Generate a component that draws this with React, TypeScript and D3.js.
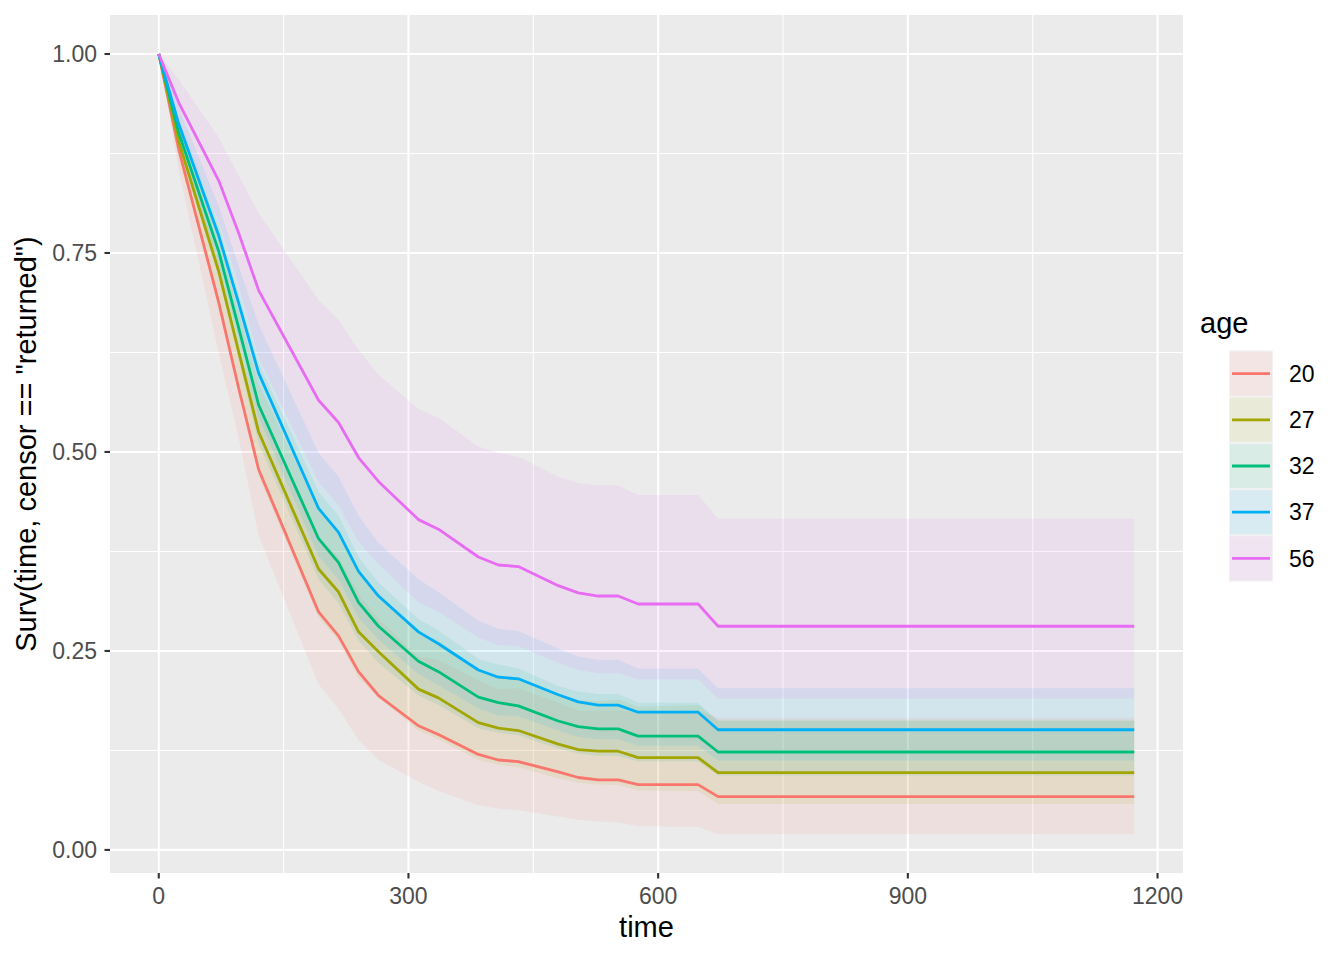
import React from "react";
import * as d3 from "d3";

const times = [0, 24, 72, 96, 120, 192, 216, 240, 264, 312, 336, 384, 408, 432, 480, 504, 528, 552, 576, 648, 672, 1172];
const ageLevels = ["20", "27", "32", "37", "56"];
const ageColors = ["#F8766D", "#A3A500", "#00BF7D", "#00B0F6", "#E76BF3"];

const surv20 = [1, 0.880, 0.688, 0.580, 0.478, 0.299, 0.269, 0.224, 0.194, 0.156, 0.145, 0.120, 0.113, 0.111, 0.098, 0.091, 0.088, 0.088, 0.082, 0.082, 0.067, 0.067];
const lower20 = [1, 0.854, 0.625, 0.518, 0.395, 0.208, 0.177, 0.138, 0.113, 0.086, 0.074, 0.056, 0.052, 0.050, 0.042, 0.038, 0.036, 0.0345, 0.030, 0.029, 0.020, 0.020];
const upper20 = [1, 0.900, 0.739, 0.632, 0.552, 0.393, 0.368, 0.322, 0.290, 0.243, 0.239, 0.213, 0.202, 0.203, 0.185, 0.175, 0.175, 0.175, 0.173, 0.175, 0.166, 0.166];

const surv27 = [1, 0.890, 0.727, 0.626, 0.525, 0.353, 0.324, 0.274, 0.249, 0.202, 0.191, 0.160, 0.153, 0.150, 0.133, 0.126, 0.124, 0.124, 0.116, 0.116, 0.097, 0.097];
const lower27 = [1, 0.869, 0.688, 0.581, 0.470, 0.292, 0.263, 0.216, 0.192, 0.150, 0.139, 0.113, 0.107, 0.104, 0.090, 0.0845, 0.0823, 0.0815, 0.0747, 0.074, 0.0577, 0.0577];
const upper27 = [1, 0.911, 0.768, 0.675, 0.586, 0.427, 0.400, 0.348, 0.323, 0.273, 0.263, 0.227, 0.219, 0.217, 0.196, 0.188, 0.187, 0.189, 0.180, 0.182, 0.163, 0.163];

const surv32 = [1, 0.901, 0.752, 0.656, 0.559, 0.391, 0.361, 0.311, 0.281, 0.237, 0.224, 0.192, 0.185, 0.181, 0.162, 0.155, 0.152, 0.152, 0.143, 0.143, 0.123, 0.123];
const lower32 = [1, 0.882, 0.720, 0.617, 0.511, 0.340, 0.310, 0.263, 0.235, 0.194, 0.182, 0.153, 0.147, 0.144, 0.127, 0.121, 0.118, 0.118, 0.111, 0.111, 0.0935, 0.0935];
const upper32 = [1, 0.920, 0.785, 0.698, 0.612, 0.450, 0.420, 0.368, 0.336, 0.290, 0.276, 0.240, 0.233, 0.228, 0.206, 0.199, 0.196, 0.196, 0.185, 0.185, 0.162, 0.162];

const surv37 = [1, 0.912, 0.772, 0.687, 0.599, 0.429, 0.399, 0.350, 0.319, 0.274, 0.259, 0.226, 0.217, 0.215, 0.195, 0.186, 0.182, 0.182, 0.173, 0.173, 0.151, 0.151];
const lower37 = [1, 0.891, 0.737, 0.643, 0.544, 0.369, 0.340, 0.292, 0.264, 0.221, 0.207, 0.178, 0.169, 0.168, 0.150, 0.142, 0.139, 0.139, 0.131, 0.131, 0.1125, 0.1125];
const upper37 = [1, 0.933, 0.809, 0.734, 0.660, 0.499, 0.469, 0.420, 0.386, 0.340, 0.324, 0.288, 0.278, 0.275, 0.253, 0.243, 0.239, 0.239, 0.228, 0.228, 0.203, 0.203];

const surv56 = [1, 0.939, 0.841, 0.775, 0.703, 0.565, 0.537, 0.493, 0.463, 0.415, 0.403, 0.368, 0.358, 0.356, 0.332, 0.323, 0.319, 0.319, 0.309, 0.309, 0.281, 0.281];
const lower56 = [1, 0.911, 0.790, 0.709, 0.618, 0.462, 0.433, 0.387, 0.359, 0.311, 0.299, 0.267, 0.257, 0.256, 0.235, 0.226, 0.222, 0.222, 0.214, 0.214, 0.190, 0.190];
const upper56 = [1, 0.968, 0.895, 0.847, 0.800, 0.691, 0.666, 0.628, 0.597, 0.554, 0.543, 0.507, 0.499, 0.494, 0.469, 0.461, 0.458, 0.458, 0.446, 0.446, 0.416, 0.416];

const xTicks = [0, 300, 600, 900, 1200];
const xMinor = [150, 450, 750, 1050];
const yTicks = [0, 0.25, 0.5, 0.75, 1.0];
const yTickLabels = ["0.00", "0.25", "0.50", "0.75", "1.00"];
const yMinor = [0.125, 0.375, 0.625, 0.875];

const survs = [surv20, surv27, surv32, surv37, surv56];
const lowers = [lower20, lower27, lower32, lower37, lower56];
const uppers = [upper20, upper27, upper32, upper37, upper56];

type Pt = { t: number; s: number; lo: number; hi: number };

export default function App() {
  const W = 1344, H = 960;
  const panel = { left: 110, right: 1183, top: 15, bottom: 873 };
  const font = "'Liberation Sans', Arial, Helvetica, sans-serif";

  const tMax = d3.max(times) as number;
  const tPad = tMax * 0.05;
  const yMin = d3.min(lowers.flat()) as number;
  const yMax = d3.max(uppers.flat()) as number;
  const yPad = (yMax - yMin) * 0.05;

  const x = d3.scaleLinear().domain([-tPad, tMax + tPad]).range([panel.left, panel.right]);
  const y = d3.scaleLinear().domain([yMin - yPad, yMax + yPad]).range([panel.bottom, panel.top]);

  const series = ageLevels.map((age, gi) => ({
    age,
    color: ageColors[gi],
    pts: times.map((t, i) => ({ t, s: survs[gi][i], lo: lowers[gi][i], hi: uppers[gi][i] })) as Pt[],
  }));

  const area = d3.area<Pt>().x((d) => x(d.t)).y0((d) => y(d.lo)).y1((d) => y(d.hi));
  const line = d3.line<Pt>().x((d) => x(d.t)).y((d) => y(d.s));

  const majorW = 2.1, minorW = 1.05, dataW = 2.8;
  const tickFs = 23, titleFs = 29, legFs = 23;
  const legendX = 1229, legendKeyW = 44, legendTop = 350.5, keyH = 46.2;

  return (
    <svg width={W} height={H} style={{ position: "absolute", left: 0, top: 0, background: "#fff" }} fontFamily={font}>
      <rect x={0} y={0} width={W} height={H} fill="#ffffff" />
      <rect x={panel.left} y={panel.top} width={panel.right - panel.left} height={panel.bottom - panel.top} fill="#EBEBEB" />
      {xMinor.map((v) => (
        <line key={"xm" + v} x1={x(v)} x2={x(v)} y1={panel.top} y2={panel.bottom} stroke="#fff" strokeWidth={minorW} />
      ))}
      {yMinor.map((v) => (
        <line key={"ym" + v} x1={panel.left} x2={panel.right} y1={y(v)} y2={y(v)} stroke="#fff" strokeWidth={minorW} />
      ))}
      {xTicks.map((v) => (
        <line key={"xM" + v} x1={x(v)} x2={x(v)} y1={panel.top} y2={panel.bottom} stroke="#fff" strokeWidth={majorW} />
      ))}
      {yTicks.map((v) => (
        <line key={"yM" + v} x1={panel.left} x2={panel.right} y1={y(v)} y2={y(v)} stroke="#fff" strokeWidth={majorW} />
      ))}
      <g>
        {series.map((s) => (
          <path key={"r" + s.age} d={area(s.pts) || ""} fill={s.color} fillOpacity={0.1} stroke="none" />
        ))}
      </g>
      <g>
        {series.map((s) => (
          <path key={"l" + s.age} d={line(s.pts) || ""} fill="none" stroke={s.color} strokeWidth={dataW} strokeLinejoin="round" />
        ))}
      </g>
      {xTicks.map((v) => (
        <g key={"xt" + v}>
          <line x1={x(v)} x2={x(v)} y1={panel.bottom} y2={panel.bottom + 5.5} stroke="#333333" strokeWidth={majorW} />
          <text x={x(v)} y={panel.bottom + 31} textAnchor="middle" fontSize={tickFs} fill="#4D4D4D">{v}</text>
        </g>
      ))}
      {yTicks.map((v, i) => (
        <g key={"yt" + v}>
          <line x1={panel.left - 5.5} x2={panel.left} y1={y(v)} y2={y(v)} stroke="#333333" strokeWidth={majorW} />
          <text x={97} y={y(v)} dy="0.36em" textAnchor="end" fontSize={tickFs} fill="#4D4D4D">{yTickLabels[i]}</text>
        </g>
      ))}
      <text x={(panel.left + panel.right) / 2} y={937} textAnchor="middle" fontSize={titleFs} fill="#000">time</text>
      <text transform={`translate(36, ${(panel.top + panel.bottom) / 2}) rotate(-90)`} textAnchor="middle" fontSize={titleFs} fill="#000">
        Surv(time, censor == "returned")
      </text>
      <text x={1200} y={333} fontSize={titleFs} fill="#000">age</text>
      <rect x={legendX} y={legendTop} width={legendKeyW} height={keyH * series.length} fill="#F2F2F2" />
      {series.map((s, i) => {
        const ky = legendTop + i * keyH;
        return (
          <g key={"lg" + s.age}>
            <rect x={legendX + 1} y={ky + 1} width={legendKeyW - 2} height={keyH - 2} fill={s.color} fillOpacity={0.1} />
            <line x1={legendX + 3} x2={legendX + legendKeyW - 3} y1={ky + keyH / 2} y2={ky + keyH / 2} stroke={s.color} strokeWidth={dataW} />
            <text x={1289} y={ky + keyH / 2} dy="0.36em" fontSize={legFs} fill="#000">{s.age}</text>
          </g>
        );
      })}
    </svg>
  );
}
